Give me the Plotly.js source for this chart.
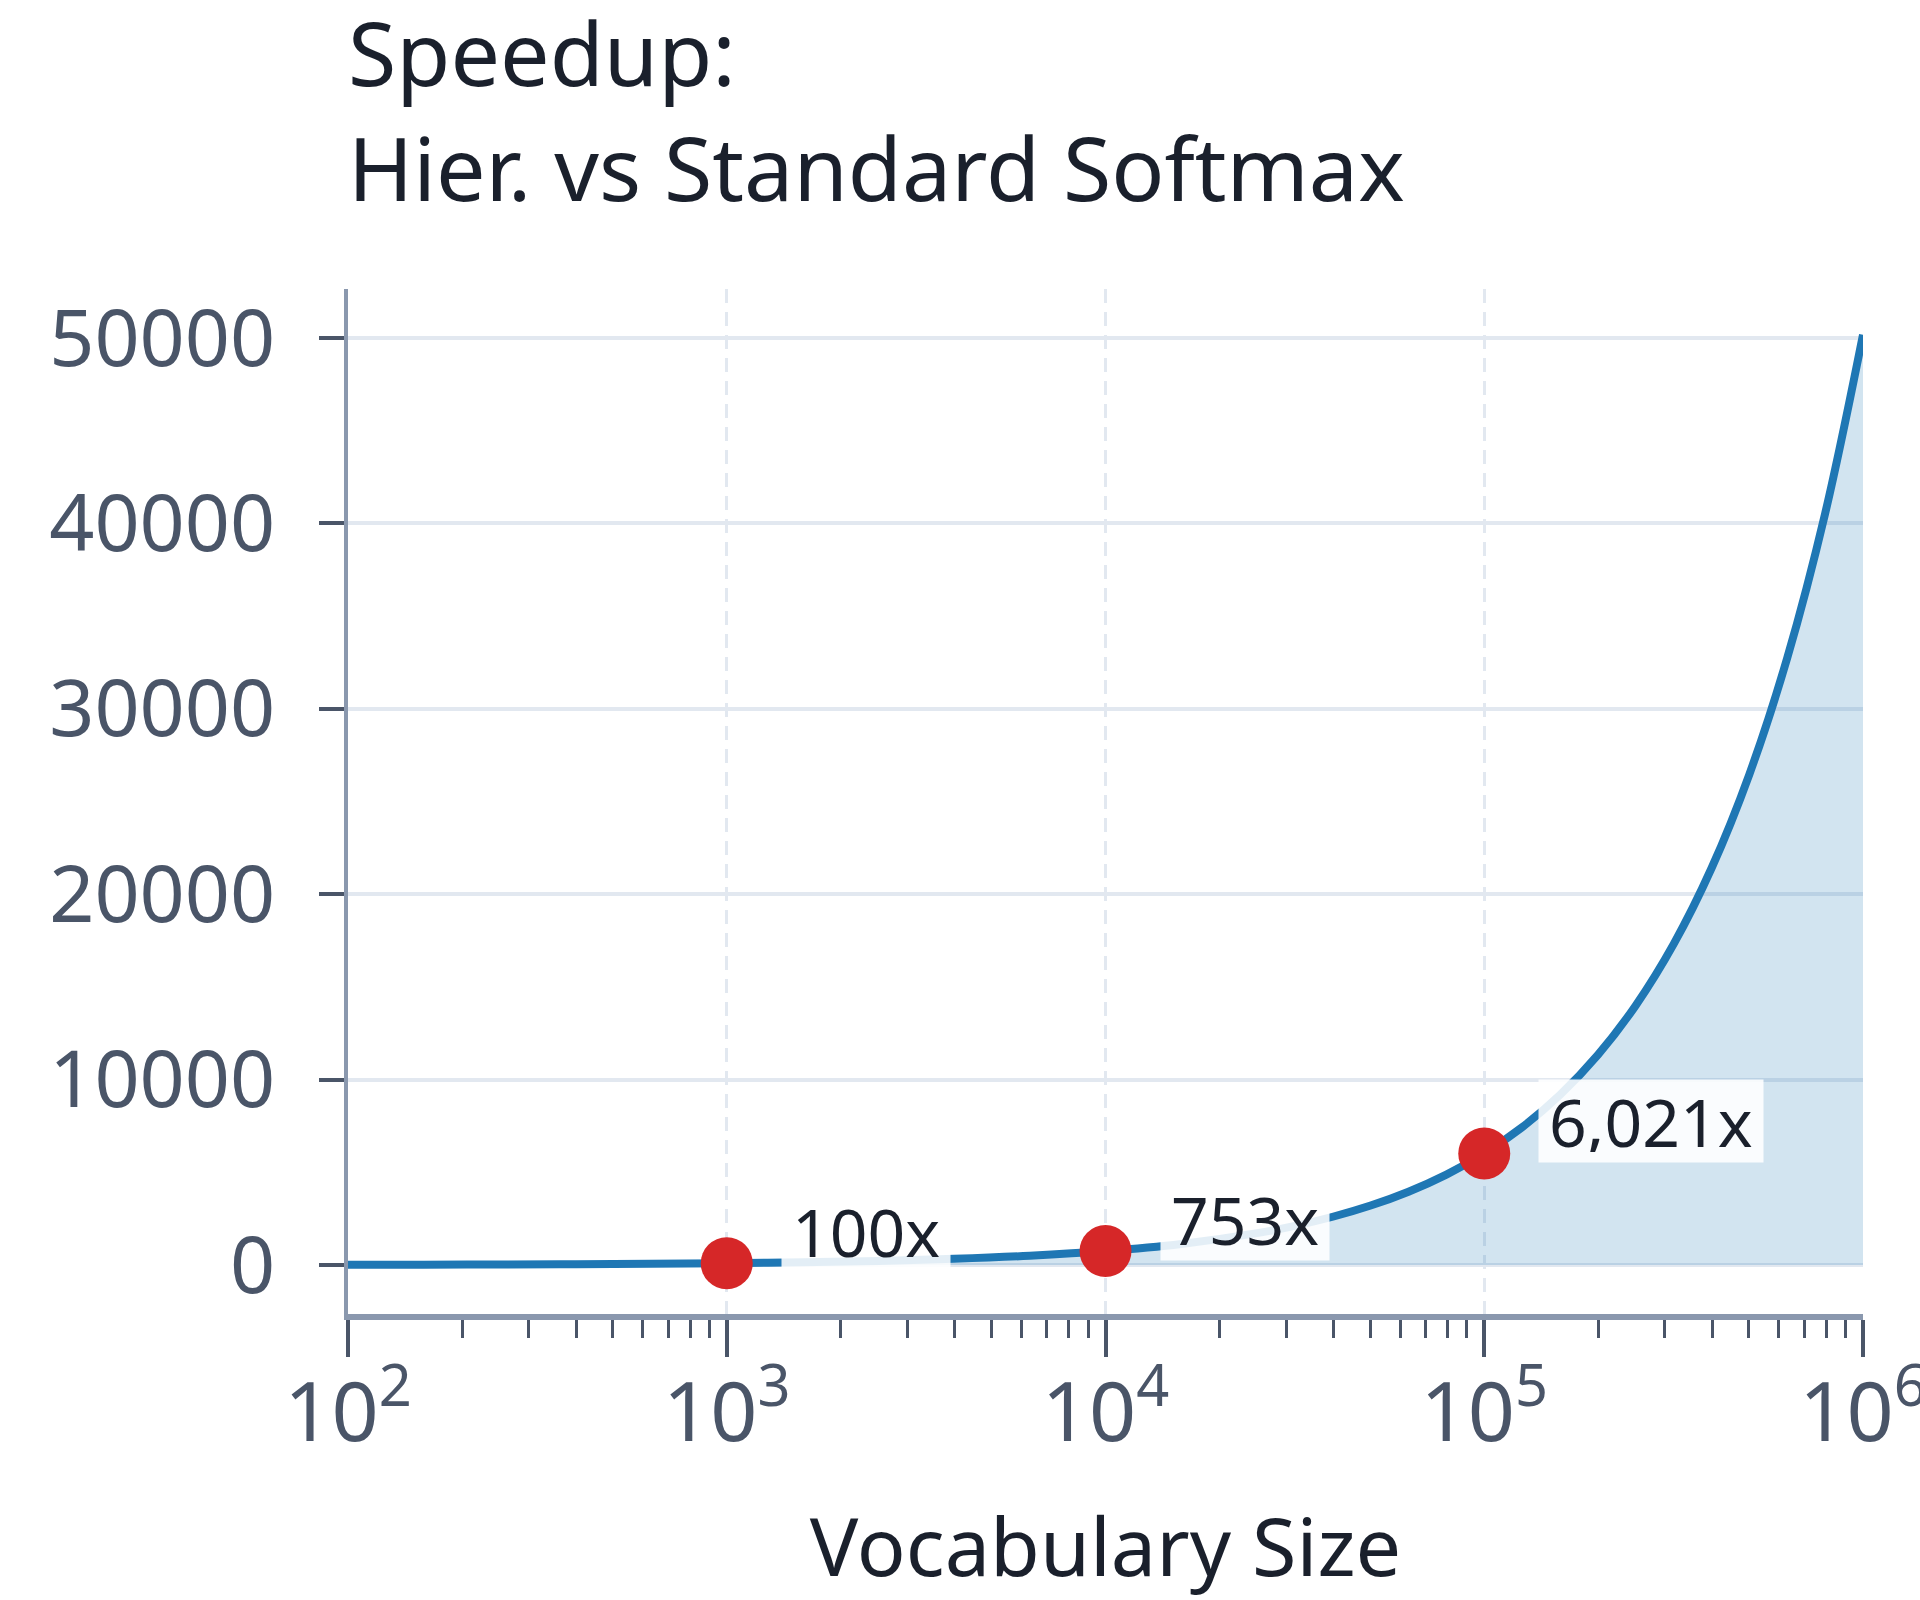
<!DOCTYPE html>
<html>
<head>
<meta charset="utf-8">
<script src="https://cdn.plot.ly/plotly-3.0.1.min.js"></script>
<style>
  body { margin: 0; background: #fff; }
  #chart { width: 1920px; height: 1600px; }
</style>
</head>
<body>
<div id="chart"></div>
<script>
// speedup curve
var vocab = [100, 158, 251, 398, 631, 1000, 1585, 2512, 3981, 6310,
	10000, 15849, 25119, 31623, 39811, 50119, 63096, 79433,
	100000, 125893, 158489, 199526, 251189, 316228, 398107,
	501187, 630957, 794328, 1000000];
var speedup = [15, 22, 32, 46, 68, 100, 149, 222, 333, 500,
	753, 1136, 1719, 2115, 2605, 3210, 3957, 4880,
	6021, 7431, 9175, 11333, 14003, 17308, 21400,
	26469, 32748, 40528, 50172];

// highlighted points
var markVocab = [1000, 10000, 100000];
var markSpeedup = [100, 753, 6021];
var markLabels = ['100x', '753x', '6,021x'];

var yTicks = [0, 10000, 20000, 30000, 40000, 50000];

var FONT = 'Noto Sans, Open Sans, sans-serif';
var TICK = '#4a5568';
var INK = '#1a202c';
var GRID = '#e2e8f0';
var AXIS = '#8a98ae';

var curve = {
	x: vocab,
	y: speedup,
	type: 'scatter',
	mode: 'lines',
	line: {color: '#1f77b4', width: 8, shape: 'spline'},
	fill: 'tozeroy',
	fillcolor: 'rgba(31,119,180,0.2)',
	hoverinfo: 'x+y',
	showlegend: false
};

var marks = {
	x: markVocab,
	y: markSpeedup,
	type: 'scatter',
	mode: 'markers',
	marker: {color: '#d62728', size: 52},
	showlegend: false
};

var notes = [];
for(var i = 0; i < markVocab.length; i++){
	notes.push({
		x: Math.log10(markVocab[i]),
		y: markSpeedup[i],
		xref: 'x',
		yref: 'y',
		text: markLabels[i],
		showarrow: false,
		xanchor: 'left',
		yanchor: 'bottom',
		xshift: 54,
		yshift: -10,
		height: 62,
		bgcolor: 'rgba(255,255,255,0.88)',
		borderpad: 10,
		font: {family: FONT, size: 66, color: INK}
	});
}

var layout = {
	width: 1920,
	height: 1600,
	paper_bgcolor: '#ffffff',
	plot_bgcolor: '#ffffff',
	margin: {l: 348, r: 57, t: 289, b: 286},
	font: {family: FONT, color: TICK},
	title: {
		text: 'Speedup:<br>Hier. vs Standard Softmax',
		font: {family: FONT, size: 88, color: INK},
		xref: 'paper',
		x: 0,
		xanchor: 'left',
		yref: 'container',
		y: 0.946,
		yanchor: 'top'
	},
	xaxis: {
		type: 'log',
		range: [2, 6],
		dtick: 1,
		exponentformat: 'power',
		showgrid: true,
		gridcolor: GRID,
		gridwidth: 3,
		griddash: '14px,9px',
		showline: true,
		linecolor: AXIS,
		linewidth: 6,
		ticks: 'outside',
		ticklen: 37,
		tickwidth: 4,
		tickcolor: TICK,
		ticklabelstandoff: -12,
		ticklabeloverflow: 'allow',
		tickfont: {family: FONT, size: 66, color: TICK},
		minor: {ticks: 'outside', ticklen: 18, tickwidth: 3, tickcolor: TICK, dtick: 'D1', showgrid: false},
		zeroline: false,
		title: {text: 'Vocabulary Size', font: {family: FONT, size: 81, color: INK}, standoff: 78}
	},
	yaxis: {
		range: [-2640, 52640],
		tickvals: yTicks,
		tickformat: 'd',
		showgrid: true,
		gridcolor: GRID,
		gridwidth: 4,
		zeroline: false,
		showline: true,
		linecolor: AXIS,
		linewidth: 4,
		ticks: 'outside',
		ticklen: 25,
		tickwidth: 4,
		tickcolor: TICK,
		ticklabelstandoff: 28,
		tickfont: {family: FONT, size: 79, color: TICK}
	},
	annotations: notes
};

Plotly.newPlot('chart', [curve, marks], layout, {displayModeBar: false, staticPlot: true});
</script>
</body>
</html>
